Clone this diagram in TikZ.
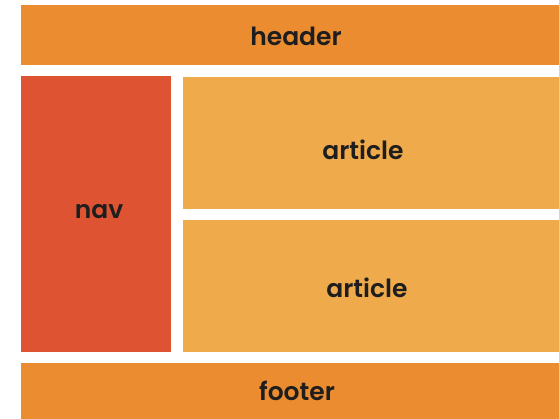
\documentclass[tikz,border=0pt]{standalone}
\usepackage{fontspec}
\setmainfont{Poppins}[BoldFont={* SemiBold}]
\definecolor{hdr}{HTML}{EA8C2F}
\definecolor{navc}{HTML}{DE5433}
\definecolor{artc}{HTML}{EFAA4C}
\definecolor{txt}{HTML}{1E1E1E}
\begin{document}
\begin{tikzpicture}[x=1pt,y=1pt,
  lbl/.style={font=\fontsize{25}{29}\selectfont\bfseries, text=txt, anchor=base, inner sep=0pt}]
\useasboundingbox (0,0) rectangle (559,419);
\fill[white] (0,0) rectangle (559,419);
% header
\fill[hdr] (21,419-5) rectangle (559,419-65);
\node[lbl] (header) at (296,419-46) {header};
% nav
\fill[navc] (21,419-76) rectangle (171,419-352);
\node[lbl] (nav) at (99,419-219) {nav};
% articles
\fill[artc] (183,419-77) rectangle (559,419-209);
\node[lbl] (art1) at (363,419-160) {article};
\fill[artc] (183,419-220) rectangle (559,419-352);
\node[lbl] (art2) at (367,419-298) {article};
% footer
\fill[hdr] (21,419-363) rectangle (559,0);
\node[lbl] (footer) at (297,419-401) {footer};
\end{tikzpicture}
\end{document}
